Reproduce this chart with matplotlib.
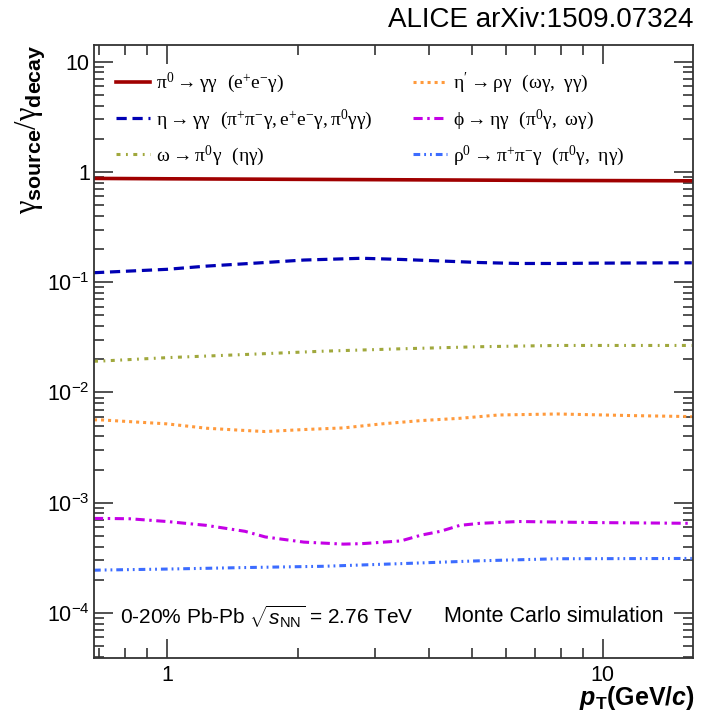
import math
import matplotlib
matplotlib.use("Agg")
import matplotlib.pyplot as plt
from matplotlib.ticker import LogLocator, FixedLocator, FuncFormatter, NullFormatter

# Données (pT en GeV/c, rapport gamma_source / gamma_decay)
pt_pi0 = [0.68, 1.0, 2.0, 4.0, 8.0, 16.0]
r_pi0 = [0.875, 0.868, 0.858, 0.848, 0.838, 0.832]

pt_eta = [0.68, 0.71, 1.0, 1.23, 1.68, 2.06, 2.8, 3.44, 4.24, 5.2, 6.4, 7.86, 9.66, 14.6, 16.0]
r_eta = [0.122, 0.123, 0.131, 0.140, 0.151, 0.159, 0.165, 0.161, 0.156, 0.151, 0.148, 0.148, 0.149, 0.150, 0.150]

pt_omega = [0.68, 0.71, 1.0, 1.51, 2.29, 3.44, 5.2, 7.86, 16.0]
r_omega = [0.0192, 0.0193, 0.0207, 0.0221, 0.0237, 0.0249, 0.0260, 0.0267, 0.0267]

pt_etap = [0.68, 0.71, 1.0, 1.23, 1.51, 1.68, 2.06, 2.54, 3.11, 3.83, 4.70, 5.77, 7.86, 11.9, 16.0]
r_etap = [5.65e-3, 5.63e-3, 5.19e-3, 4.74e-3, 4.52e-3, 4.42e-3, 4.61e-3, 4.77e-3, 5.19e-3,
          5.56e-3, 5.83e-3, 6.25e-3, 6.38e-3, 6.16e-3, 6.04e-3]

pt_phi = [0.68, 0.71, 0.82, 1.0, 1.23, 1.51, 1.68, 2.06, 2.54, 2.8, 3.44, 3.83, 4.24, 4.70, 5.2, 6.4, 9.66, 16.0]
r_phi = [7.2e-4, 7.2e-4, 7.15e-4, 6.75e-4, 6.23e-4, 5.5e-4, 4.89e-4, 4.39e-4, 4.21e-4, 4.25e-4,
         4.5e-4, 5.08e-4, 5.5e-4, 6.23e-4, 6.49e-4, 6.75e-4, 6.6e-4, 6.5e-4]

pt_rho = [0.68, 0.71, 1.0, 1.51, 2.29, 3.44, 5.2, 7.86, 16.0]
r_rho = [2.44e-4, 2.45e-4, 2.5e-4, 2.58e-4, 2.65e-4, 2.8e-4, 2.97e-4, 3.1e-4, 3.12e-4]

labels = [
    r'$\mathrm{\pi^{0} \rightarrow \gamma\gamma\ \ (e^{+}e^{-}\gamma)}$',
    r'$\mathrm{\eta \rightarrow \gamma\gamma\ \ (\pi^{+}\pi^{-}\gamma,e^{+}e^{-}\gamma,\pi^{0}\gamma\gamma)}$',
    r'$\mathrm{\omega \rightarrow \pi^{0}\gamma\ \ (\eta\gamma)}$',
    r"$\mathrm{\eta' \rightarrow \rho\gamma\ \ (\omega\gamma,\ \gamma\gamma)}$",
    r'$\mathrm{\phi \rightarrow \eta\gamma\ \ (\pi^{0}\gamma,\ \omega\gamma)}$',
    r'$\mathrm{\rho^{0} \rightarrow \pi^{+}\pi^{-}\gamma\ \ (\pi^{0}\gamma,\ \eta\gamma)}$',
]

plt.rcParams['font.family'] = ['Liberation Sans', 'DejaVu Sans']
plt.rcParams['mathtext.fontset'] = 'custom'
plt.rcParams['mathtext.rm'] = 'Liberation Serif'
plt.rcParams['mathtext.it'] = 'Liberation Sans:italic'
plt.rcParams['mathtext.bf'] = 'Liberation Sans:bold'
plt.rcParams['mathtext.bfit'] = 'Liberation Sans:italic:bold'

fig = plt.figure(figsize=(7.02, 7.14), dpi=100)
W, H = 702.0, 714.0
ax = fig.add_axes([94 / W, 1 - 658 / H, (693 - 94) / W, (658 - 45) / H])

series = [
    (pt_pi0, r_pi0, '#a00000', '-', 2.6),
    (pt_eta, r_eta, '#0000b4', (0, (3.2, 1.8)), 2.3),
    (pt_omega, r_omega, '#a0a83c', (0, (1.3, 1.8, 0.6, 1.8)), 2.2),
    (pt_etap, r_etap, '#ff9a3c', (0, (1.0, 1.3)), 2.2),
    (pt_phi, r_phi, '#c400e6', (0, (3, 1.5, 0.8, 1.5)), 2.2),
    (pt_rho, r_rho, '#3c6cff', (0, (2.2, 1.3, 0.6, 1.3, 0.6, 1.3)), 2.2),
]
lines = []
for (x, y, c, ls, lw), lab in zip(series, labels):
    ln, = ax.plot(x, y, color=c, linestyle=ls, linewidth=lw, label=lab)
    lines.append(ln)

ax.set_xscale('log')
ax.set_yscale('log')
ax.set_xlim(0.68, 16.1)
ax.set_ylim(3.9e-5, 14.2)

ax.xaxis.set_major_locator(FixedLocator([1, 10]))
ax.xaxis.set_minor_locator(FixedLocator([0.7, 0.8, 0.9, 2, 3, 4, 5, 6, 7, 8, 9]))
ax.xaxis.set_minor_formatter(NullFormatter())
ax.xaxis.set_major_formatter(FuncFormatter(lambda v, p: '%d' % round(v)))

ax.yaxis.set_major_locator(LogLocator(base=10, numticks=20))
ax.yaxis.set_minor_locator(LogLocator(base=10, subs=range(2, 10), numticks=20))
ax.yaxis.set_minor_formatter(NullFormatter())


def yfmt(v, pos):
    if v >= 10:
        return '10'
    if v >= 1:
        return '1'
    e = int(round(math.log10(v)))
    return r'$\mathregular{10^{%d}}$' % e


ax.yaxis.set_major_formatter(FuncFormatter(yfmt))

ax.tick_params(which='both', direction='in', top=True, right=True, color='#333333', width=1.2)
ax.tick_params(which='major', length=14, labelsize=15.5)
ax.tick_params(which='minor', length=7)
ax.tick_params(axis='x', which='major', pad=5)
ax.tick_params(axis='y', which='major', pad=3)
for s in ax.spines.values():
    s.set_linewidth(1.3)
    s.set_color('#333333')

# légende en deux colonnes
leg_kw = dict(loc='upper left', frameon=False, fontsize=14, handlelength=1.75,
              handletextpad=0.3, labelspacing=0.62, borderpad=0, borderaxespad=0,
              bbox_transform=fig.transFigure)
leg1 = ax.legend(handles=lines[:3], bbox_to_anchor=(116 / W, 1 - 71 / H), **leg_kw)
ax.add_artist(leg1)
ax.legend(handles=lines[3:], bbox_to_anchor=(413 / W, 1 - 71 / H), **leg_kw)

# textes
fig.text(693 / W, 1 - 20 / H, 'ALICE arXiv:1509.07324', ha='right', va='center', fontsize=20)
fig.text(120 / W, 1 - 617 / H, r'0-20% Pb-Pb $\sqrt{s_{\mathregular{NN}}}$ = 2.76 TeV',
         ha='left', va='center', fontsize=15)
fig.text(663 / W, 1 - 617 / H, 'Monte Carlo simulation', ha='right', va='center', fontsize=15.5)
fig.text(695 / W, 1 - 698 / H, r'$\mathbfit{p}_{\mathbf{T}}$(GeV/$\mathbfit{c}$)',
         ha='right', va='center', fontsize=18, fontweight='bold')
fig.text(30 / W, 1 - 45 / H, r'$\mathrm{\gamma}_{\mathbf{source}}/\mathrm{\gamma}_{\mathbf{decay}}$',
         ha='center', va='top', rotation=90, fontsize=22)

fig.savefig('out.png', dpi=100)
